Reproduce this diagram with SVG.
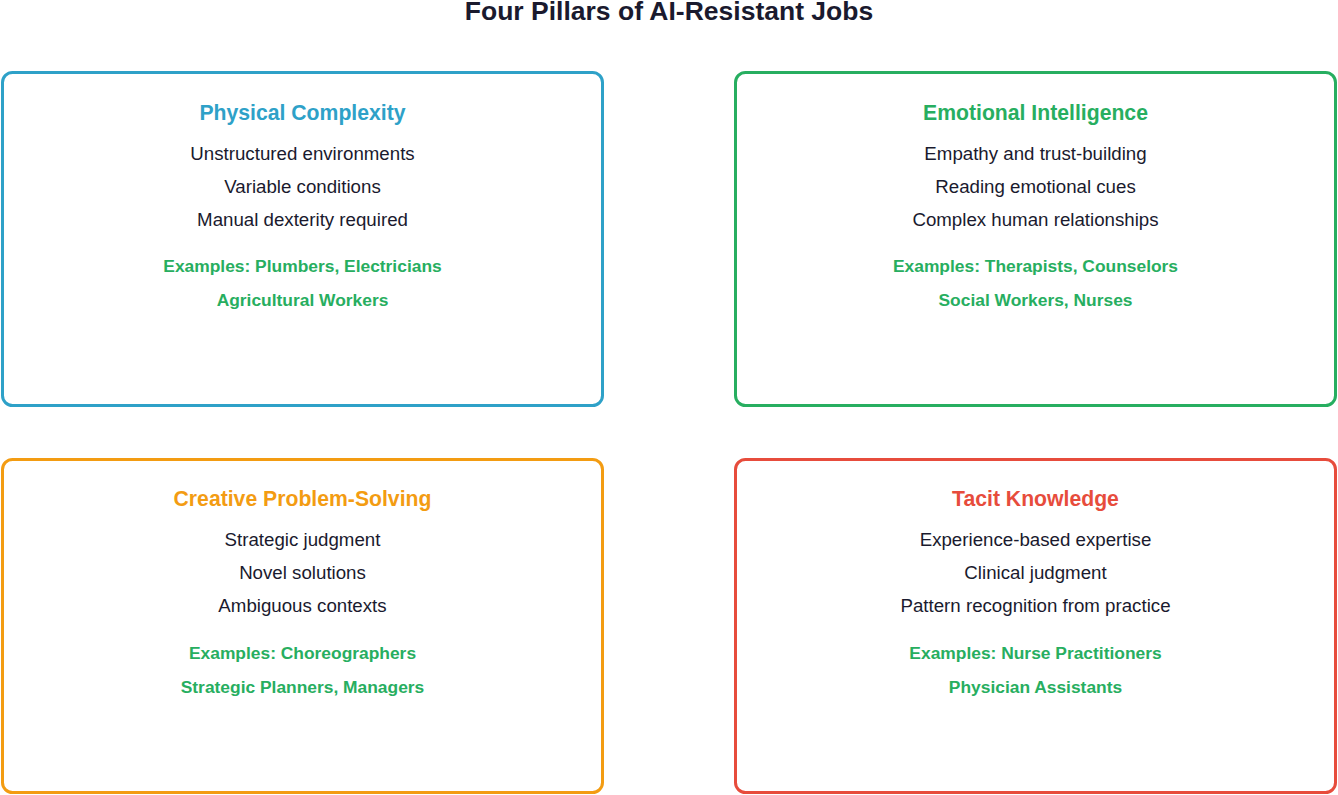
<svg xmlns="http://www.w3.org/2000/svg" width="1338" height="795" viewBox="0 0 1338 795">
<style>
.t{font-family:"Liberation Sans",Arial,sans-serif;text-anchor:middle}
.title{font-size:26.5px;font-weight:bold;fill:#1a1a2e}
.h{font-size:21.2px;font-weight:bold}
.b{font-size:18.7px;fill:#1a1a2e}
.e{font-size:17.4px;font-weight:bold;fill:#27ae60}
.box{fill:#fff;stroke-width:3}
</style>
<rect width="1338" height="795" fill="#fff"/>
<text class="t title" x="669" y="20">Four Pillars of AI-Resistant Jobs</text>
<g id="physical">
<rect class="box" x="2.5" y="72.5" width="600" height="333" rx="10" stroke="#2ea1c8"/>
<text class="t h" x="302.5" y="119.5" fill="#2ea1c8">Physical Complexity</text>
<text class="t b" x="302.5" y="159.5">Unstructured environments</text>
<text class="t b" x="302.5" y="192.5">Variable conditions</text>
<text class="t b" x="302.5" y="225.5">Manual dexterity required</text>
<text class="t e" x="302.5" y="272">Examples: Plumbers, Electricians</text>
<text class="t e" x="302.5" y="306">Agricultural Workers</text>
</g>
<g id="emotional">
<rect class="box" x="735.5" y="72.5" width="600" height="333" rx="10" stroke="#27ae60"/>
<text class="t h" x="1035.5" y="119.5" fill="#27ae60">Emotional Intelligence</text>
<text class="t b" x="1035.5" y="159.5">Empathy and trust-building</text>
<text class="t b" x="1035.5" y="192.5">Reading emotional cues</text>
<text class="t b" x="1035.5" y="225.5">Complex human relationships</text>
<text class="t e" x="1035.5" y="272">Examples: Therapists, Counselors</text>
<text class="t e" x="1035.5" y="306">Social Workers, Nurses</text>
</g>
<g id="creative">
<rect class="box" x="2.5" y="459.5" width="600" height="333" rx="10" stroke="#f39c12"/>
<text class="t h" x="302.5" y="506" fill="#f39c12">Creative Problem-Solving</text>
<text class="t b" x="302.5" y="546">Strategic judgment</text>
<text class="t b" x="302.5" y="579">Novel solutions</text>
<text class="t b" x="302.5" y="612">Ambiguous contexts</text>
<text class="t e" x="302.5" y="659">Examples: Choreographers</text>
<text class="t e" x="302.5" y="692.5">Strategic Planners, Managers</text>
</g>
<g id="tacit">
<rect class="box" x="735.5" y="459.5" width="600" height="333" rx="10" stroke="#e74c3c"/>
<text class="t h" x="1035.5" y="506" fill="#e74c3c">Tacit Knowledge</text>
<text class="t b" x="1035.5" y="546">Experience-based expertise</text>
<text class="t b" x="1035.5" y="579">Clinical judgment</text>
<text class="t b" x="1035.5" y="612">Pattern recognition from practice</text>
<text class="t e" x="1035.5" y="659">Examples: Nurse Practitioners</text>
<text class="t e" x="1035.5" y="692.5">Physician Assistants</text>
</g>
<g id="connectors"></g>
</svg>
